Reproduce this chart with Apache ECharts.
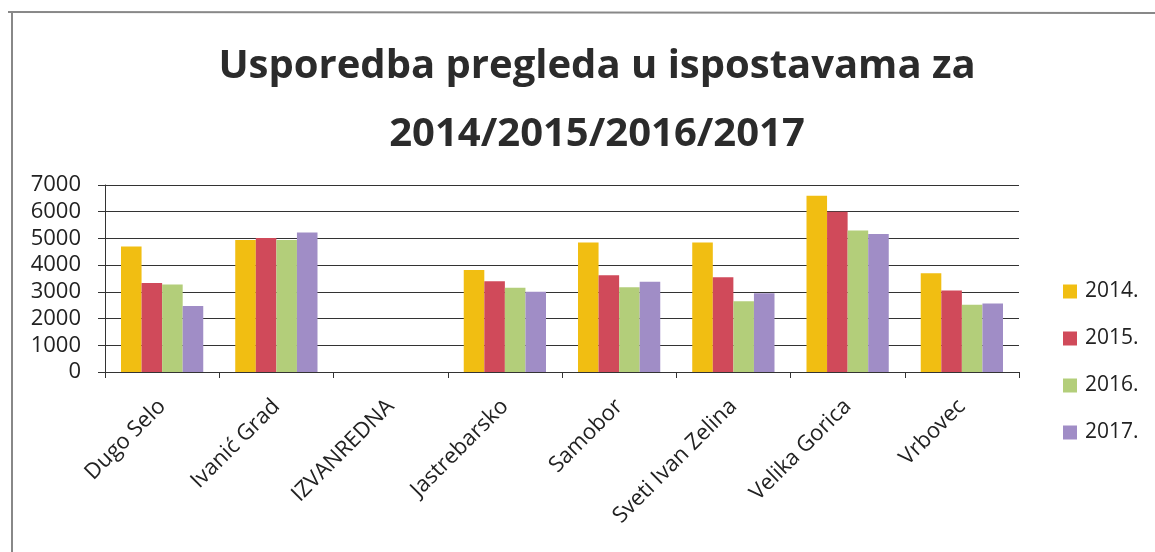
<!DOCTYPE html>
<html>
<head>
<meta charset="utf-8">
<script src="https://cdn.jsdelivr.net/npm/echarts@6/dist/echarts.min.js"></script>
<style>
html,body{margin:0;padding:0;background:#fff;}
#chart{width:1155px;height:552px;}
</style>
</head>
<body>
<div id="chart"></div>
<script>
const categories = ['Dugo Selo','Ivanić Grad','IZVANREDNA','Jastrebarsko','Samobor','Sveti Ivan Zelina','Velika Gorica','Vrbovec'];
const seriesNames = ['2014.','2015.','2016.','2017.'];
const values2014 = [4700, 4940, null, 3820, 4850, 4850, 6600, 3700];
const values2015 = [3330, 5020, null, 3400, 3620, 3550, 6000, 3050];
const values2016 = [3280, 4940, null, 3150, 3170, 2650, 5300, 2520];
const values2017 = [2470, 5220, null, 3000, 3380, 2950, 5170, 2560];
const yTicks = [0, 1000, 2000, 3000, 4000, 5000, 6000, 7000];
const colors = ['#F1BE12', '#D04A5A', '#B3CE7A', '#A08DC6'];
const titleLines = ['Usporedba pregleda u ispostavama za', '2014/2015/2016/2017'];

const allValues = [values2014, values2015, values2016, values2017];
const chart = echarts.init(document.getElementById('chart'));
chart.setOption({
  animation: false,
  backgroundColor: '#fff',
  color: colors,
  title: {
    text: titleLines.join('\n'),
    left: 592, top: 28, textAlign: 'center',
    textStyle: { fontFamily: 'Open Sans', fontWeight: 'bold', fontSize: 40, lineHeight: 68, color: '#2b2b2b' }
  },
  legend: {
    orient: 'vertical', left: 1058, top: 276,
    itemWidth: 14, itemHeight: 14, itemGap: 26,
    icon: 'rect',
    textStyle: { fontFamily: 'Open Sans', fontSize: 21, color: '#222', padding: [0,0,0,3] },
    data: seriesNames
  },
  grid: { left: 105, right: 136, top: 185, bottom: 180 },
  xAxis: {
    type: 'category', data: categories,
    axisLine: { lineStyle: { color: '#333', width: 1 } },
    axisTick: { show: true, length: 6, lineStyle: { color: '#333' } },
    axisLabel: { rotate: 45, margin: 31, fontFamily: 'Open Sans', fontSize: 22, color: '#222' }
  },
  yAxis: {
    type: 'value', min: yTicks[0], max: yTicks[yTicks.length-1], interval: 1000,
    axisLine: { show: true, lineStyle: { color: '#333' } },
    axisTick: { show: true, length: 7, lineStyle: { color: '#333' } },
    axisLabel: { margin: 24, fontFamily: 'Open Sans', fontSize: 22, color: '#222', formatter: v => String(v) },
    splitLine: { lineStyle: { color: '#333', width: 1 } }
  },
  series: seriesNames.map((n, i) => ({
    name: n, type: 'bar', data: allValues[i],
    barGap: '0%', barCategoryGap: '28%',
    itemStyle: { color: colors[i] }
  })),
  graphic: [
    { type: 'line', shape: { x1: 8, y1: 12, x2: 1155, y2: 13 }, style: { stroke: '#888', lineWidth: 2 } },
    { type: 'line', shape: { x1: 12, y1: 12, x2: 12, y2: 552 }, style: { stroke: '#888', lineWidth: 2 } }
  ]
});
</script>
</body>
</html>
